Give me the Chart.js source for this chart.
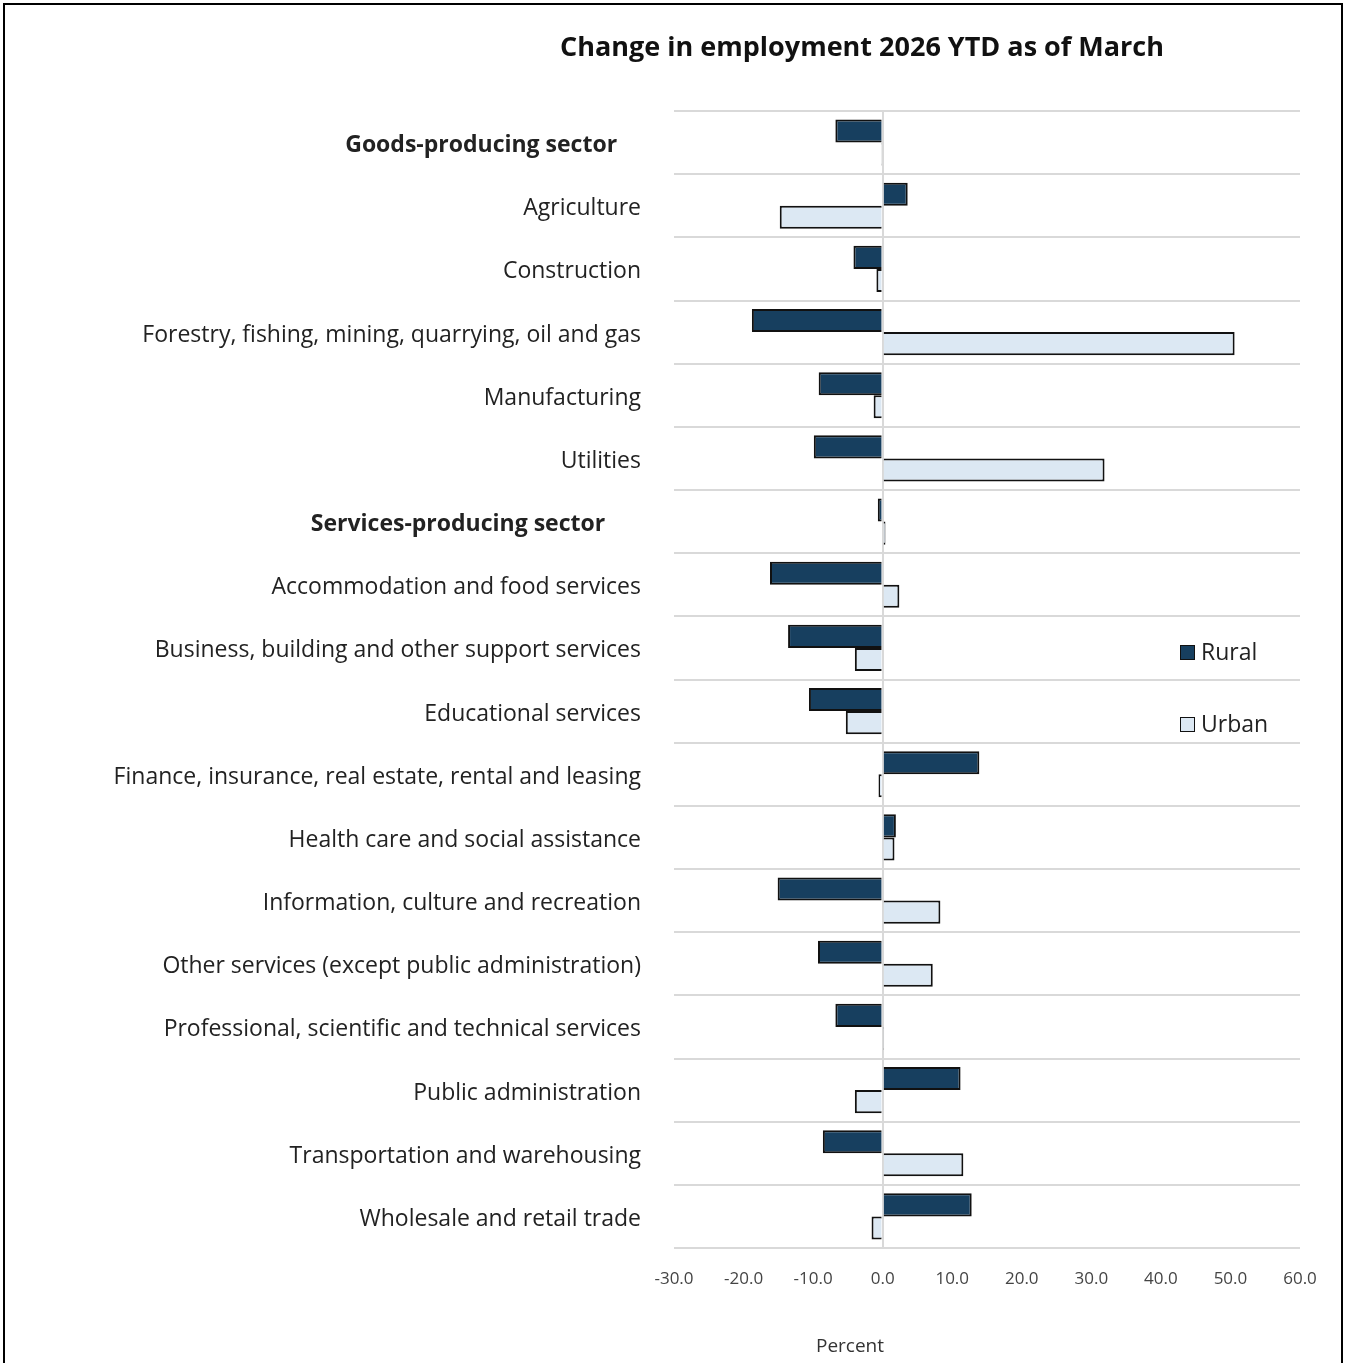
<!DOCTYPE html>
<html>
<head>
<meta charset="utf-8">
<script src="https://cdn.jsdelivr.net/npm/chart.js@4/dist/chart.umd.min.js"></script>
<style>
  body { margin: 0; background: #fff; font-family: "Open Sans", sans-serif; }
  #wrap { position: relative; width: 1348px; height: 1363px; }
  #frame { position: absolute; left: 3px; top: 3px; width: 1336px; height: 1370px; border: 2px solid #000; }
  #title { position: absolute; top: 27px; left: 0; width: 1724px; text-align: center; font-weight: bold; font-size: 27px; color: #111; }
  #xtitle { position: absolute; top: 1332px; left: 0; width: 1700px; text-align: center; font-size: 19px; color: #333; }
  .leg { position: absolute; left: 1180px; font-size: 23px; color: #222; }
  .leg span { display: inline-block; width: 13px; height: 13px; border: 1.5px solid #111; margin-right: 6px; vertical-align: 0px; }
  canvas { position: absolute; left: 0; top: 0; }
</style>
</head>
<body>
<div id="wrap">
  <canvas id="myChart" width="1348" height="1363"></canvas>
  <div id="frame"></div>
  <div id="title">Change in employment 2026 YTD as of March</div>
  <div id="xtitle">Percent</div>
  <div class="leg" style="top:635px"><span style="background:#173f5f"></span>Rural</div>
  <div class="leg" style="top:707px"><span style="background:#dce8f3"></span>Urban</div>
</div>
<script>
const categories = [
    'Goods-producing sector',
    'Agriculture',
    'Construction',
    'Forestry, fishing, mining, quarrying, oil and gas',
    'Manufacturing',
    'Utilities',
    'Services-producing sector',
    'Accommodation and food services',
    'Business, building and other support services',
    'Educational services',
    'Finance, insurance, real estate, rental and leasing',
    'Health care and social assistance',
    'Information, culture and recreation',
    'Other services (except public administration)',
    'Professional, scientific and technical services',
    'Public administration',
    'Transportation and warehousing',
    'Wholesale and retail trade'
];
const rural = [-6.8, 3.6, -4.2, -18.8, -9.2, -9.9, -0.7, -16.2, -13.6, -10.6, 13.9, 1.9, -15.1, -9.3, -6.8, 11.2, -8.6, 12.8];
const urban = [-0.2, -14.8, -0.9, 50.6, -1.3, 31.9, 0.4, 2.4, -4.0, -5.3, -0.6, 1.7, 8.3, 7.2, 0.2, -4.0, 11.6, -1.6];
const xTicks = [-30, -20, -10, 0, 10, 20, 30, 40, 50, 60];
const headings = [0, 6];

const ctx = document.getElementById('myChart').getContext('2d');
new Chart(ctx, {
    type: 'bar',
    data: {
        labels: categories,
        datasets: [{
            label: 'Rural',
            data: rural,
            backgroundColor: '#173f5f',
            borderColor: '#111',
            borderWidth: 2,
            categoryPercentage: 0.73,
            barPercentage: 1
        }, {
            label: 'Urban',
            data: urban,
            backgroundColor: '#dce8f3',
            borderColor: '#111',
            borderWidth: 2,
            categoryPercentage: 0.73,
            barPercentage: 1
        }]
    },
    options: {
        indexAxis: 'y',
        responsive: false,
        animation: false,
        layout: { padding: { top: 111, right: 48, bottom: 0, left: 0 } },
        plugins: {
            legend: { display: false },
            title: { display: false },
            tooltip: { enabled: false }
        },
        scales: {
            x: {
                min: -30,
                max: 60,
                afterBuildTicks: (scale) => { scale.ticks = xTicks.map(v => ({ value: v })); },
                afterFit: (scale) => { scale.height = 115; },
                border: { display: false },
                grid: {
                    drawTicks: false,
                    color: (c) => c.tick && c.tick.value === 0 ? '#d9d9d9' : 'rgba(0,0,0,0)',
                    lineWidth: 2
                },
                ticks: {
                    padding: 21,
                    color: '#444',
                    font: { family: 'Open Sans', size: 17 },
                    callback: (v) => Number(v).toFixed(1)
                }
            },
            y: {
                afterFit: (scale) => { scale.width = 674; },
                border: { display: false },
                grid: {
                    drawTicks: false,
                    color: '#d9d9d9',
                    lineWidth: 2
                },
                ticks: {
                    padding: 33,
                    labelOffset: 3,
                    color: '#222',
                    font: (c) => ({
                        family: 'Open Sans',
                        size: 23,
                        weight: headings.includes(c.index) ? 'bold' : 'normal'
                    }),
                    callback: function (v, i) {
                        const label = this.getLabelForValue(v);
                        if (i === 0) return label + '    ';
                        if (i === 6) return label + '      ';
                        return label;
                    }
                }
            }
        }
    }
});
</script>
</body>
</html>
